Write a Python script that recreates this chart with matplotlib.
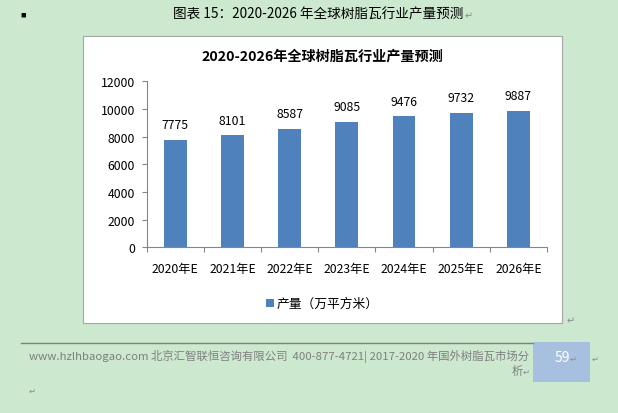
#import libraries
import matplotlib.pyplot as plt
from matplotlib.patches import Rectangle
from matplotlib.lines import Line2D

plt.rcParams['font.family'] = ['Noto Sans CJK SC', 'DejaVu Sans']

#data
years = ['2020年E', '2021年E', '2022年E', '2023年E', '2024年E', '2025年E', '2026年E']
output = [7775, 8101, 8587, 9085, 9476, 9732, 9887]
y_ticks = [0, 2000, 4000, 6000, 8000, 10000, 12000]

chart_title = '2020-2026年全球树脂瓦行业产量预测'
caption = '图表 15：2020-2026 年全球树脂瓦行业产量预测'
series_name = '产量（万平方米）'
footer = 'www.hzlhbaogao.com 北京汇智联恒咨询有限公司  400-877-4721| 2017-2020 年国外树脂瓦市场分'
page_no = '59'

W, H = 618, 414
bg = '#cce8cf'
bar_color = '#4f81bd'
axis_color = '#868686'

def fx(px):
    return px / W

def fy(py):
    return 1 - py / H

fig = plt.figure(figsize=(W / 100, H / 100), dpi=100, facecolor=bg)

#white chart box
fig.add_artist(Rectangle((fx(83), fy(324)), fx(562) - fx(83), fy(37) - fy(324),
                         transform=fig.transFigure, facecolor='white',
                         edgecolor='#a6a6a6', linewidth=0.8, zorder=0))

#the chart itself
ax = fig.add_axes([fx(146.7), fy(248.3), fx(547) - fx(146.7), fy(82.3) - fy(248.3)])
ax.set_facecolor('white')
x = list(range(len(years)))
ax.bar(x, output, width=0.4, color=bar_color, zorder=2)
for xi, v in zip(x, output):
    ax.annotate(str(v), (xi, v), xytext=(0, 6), textcoords='offset points',
                ha='center', va='bottom', fontsize=8.8, fontweight='medium', color='black')
ax.set_xlim(-0.5, len(years) - 0.5)
ax.set_ylim(0, 12000)
ax.set_yticks(y_ticks)
ax.set_yticklabels([str(t) for t in y_ticks], fontsize=8.8, fontweight='medium')
ax.set_xticks([i - 0.5 for i in range(len(years) + 1)])
ax.set_xticklabels([])
ax.set_xticks(x, minor=True)
ax.set_xticklabels(years, minor=True, fontsize=8.8, fontweight='medium')
ax.tick_params(axis='x', which='minor', length=0, pad=10.5)
ax.tick_params(axis='x', which='major', length=3.5, color=axis_color, width=0.8)
ax.tick_params(axis='y', length=3.5, color=axis_color, width=0.8, pad=5)
for s in ['top', 'right']:
    ax.spines[s].set_visible(False)
for s in ['left', 'bottom']:
    ax.spines[s].set_color(axis_color)
    ax.spines[s].set_linewidth(0.8)

fig.text(fx(322), fy(57), chart_title, ha='center', va='center',
         fontsize=10.2, fontweight='bold')

#legend
fig.add_artist(Rectangle((fx(266), fy(308)), fx(8), fy(0) - fy(8),
                         transform=fig.transFigure, facecolor=bar_color))
fig.text(fx(277), fy(304), series_name, ha='left', va='center', fontsize=9.2)

#document caption above the chart
fig.text(fx(23), fy(15), '■', ha='center', va='center', fontsize=4)
fig.text(fx(173), fy(15), caption, ha='left', va='center', fontsize=9.8)
fig.text(fx(465), fy(16), '↵', ha='left', va='center', fontsize=7, color='#8c8c8c')
fig.text(fx(567), fy(321), '↵', ha='left', va='center', fontsize=7, color='#8c8c8c')

#footer
fig.add_artist(Line2D([fx(21), fx(533)], [fy(343.5), fy(343.5)],
                      transform=fig.transFigure, color='#7f7f7f', linewidth=1))
fig.add_artist(Rectangle((fx(533), fy(383)), fx(590) - fx(533), fy(343) - fy(383),
                         transform=fig.transFigure, facecolor='#a8c0e0', edgecolor='none'))
fig.text(fx(29), fy(356), footer, ha='left', va='center', fontsize=8.2, color='#7f7f7f')
fig.text(fx(523), fy(372), '析', ha='right', va='center', fontsize=8.2, color='#7f7f7f')
fig.text(fx(523), fy(372), '↵', ha='left', va='center', fontsize=6, color='#8c8c8c')
fig.text(fx(555), fy(358), page_no, ha='left', va='center', fontsize=10, color='white')
fig.text(fx(570), fy(359), '↵', ha='left', va='center', fontsize=6, color='#8c8c8c')
fig.text(fx(592), fy(359), '↵', ha='left', va='center', fontsize=6, color='#8c8c8c')
fig.text(fx(29), fy(391), '↵', ha='left', va='center', fontsize=6, color='#8c8c8c')

plt.savefig('out.png', dpi=100, facecolor=bg)
